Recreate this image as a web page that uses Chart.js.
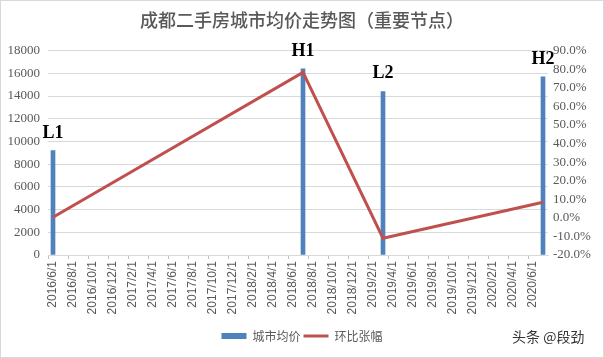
<!DOCTYPE html>
<html>
<head>
<meta charset="utf-8">
<script src="https://cdn.jsdelivr.net/npm/chart.js@4"></script>
<style>
  html, body { margin: 0; padding: 0; background: #fff; }
  #wrap { position: relative; width: 604px; height: 358px; }
  #frame { position: absolute; left: 0; top: 0; width: 604px; height: 358px; box-sizing: border-box; border: 1px solid #d9d9d9; pointer-events: none; }
  #mark { position: absolute; left: 512px; top: 326px; font: 14px "Noto Sans CJK SC", sans-serif; color: #333; }
</style>
</head>
<body>
<div id="wrap">
  <canvas id="c" width="604" height="358"></canvas>
  <div id="frame"></div>
  <div id="mark">头条 @段劲</div>
</div>
<script>
const categories = [
  '2016/6/1','2016/7/1','2016/8/1','2016/9/1','2016/10/1','2016/11/1','2016/12/1',
  '2017/1/1','2017/2/1','2017/3/1','2017/4/1','2017/5/1','2017/6/1','2017/7/1','2017/8/1','2017/9/1','2017/10/1','2017/11/1','2017/12/1',
  '2018/1/1','2018/2/1','2018/3/1','2018/4/1','2018/5/1','2018/6/1','2018/7/1','2018/8/1','2018/9/1','2018/10/1','2018/11/1','2018/12/1',
  '2019/1/1','2019/2/1','2019/3/1','2019/4/1','2019/5/1','2019/6/1','2019/7/1','2019/8/1','2019/9/1','2019/10/1','2019/11/1','2019/12/1',
  '2020/1/1','2020/2/1','2020/3/1','2020/4/1','2020/5/1','2020/6/1','2020/7/1'
];
const nodeDates  = ['2016/6/1', '2018/7/1', '2019/3/1', '2020/7/1'];
const nodeLabels = ['L1', 'H1', 'L2', 'H2'];
const prices     = [9200, 16400, 14400, 15700];   // 城市均价
const changes    = [0.3, 78.3, -11.0, 8.4];       // 环比张幅 (%)
const leftTicks  = { min: 0, max: 18000, step: 2000 };
const rightTicks = { min: -20, max: 90, step: 10 };

const barData  = categories.map(c => { const i = nodeDates.indexOf(c); return i >= 0 ? prices[i] : null; });
const lineData = categories.map(c => { const i = nodeDates.indexOf(c); return i >= 0 ? changes[i] : null; });

const serif = '"Liberation Serif", "Times New Roman", serif';
const sans = '"Liberation Sans", Arial, sans-serif';
const cjk = '"Noto Sans CJK SC", sans-serif';

const nodeLabelPlugin = {
  id: 'nodeLabels',
  afterDatasetsDraw(chart) {
    const meta = chart.getDatasetMeta(0);
    const ctx = chart.ctx;
    ctx.save();
    ctx.font = 'bold 18px ' + serif;
    ctx.fillStyle = '#000';
    ctx.textAlign = 'center';
    ctx.textBaseline = 'alphabetic';
    let k = 0;
    meta.data.forEach((el, i) => {
      if (barData[i] != null) {
        ctx.fillText(nodeLabels[k++], el.x, el.y - 13);
      }
    });
    ctx.restore();
  }
};

new Chart(document.getElementById('c'), {
  data: {
    labels: categories,
    datasets: [
      {
        type: 'bar', label: '城市均价', data: barData, yAxisID: 'y',
        backgroundColor: '#4F81BD', borderWidth: 0, barThickness: 4,
        pointStyle: 'rect', order: 2
      },
      {
        type: 'line', label: '环比张幅', data: lineData, yAxisID: 'y1',
        borderColor: '#C0504D', backgroundColor: '#C0504D', borderWidth: 3,
        pointRadius: 0, spanGaps: true, tension: 0, pointStyle: 'line', order: 1
      }
    ]
  },
  options: {
    responsive: false,
    animation: false,
    layout: { padding: { left: 0, right: 0, top: 0, bottom: 6 } },
    plugins: {
      title: {
        display: true,
        text: '成都二手房城市均价走势图（重要节点）',
        color: '#595959',
        font: { family: cjk, size: 18, weight: 500 },
        padding: { top: 9, bottom: 20 }
      },
      legend: {
        position: 'bottom',
        labels: {
          usePointStyle: true,
          pointStyleWidth: 25,
          boxHeight: 6,
          padding: 3,
          color: '#595959',
          font: { family: cjk, size: 12 },
          sort: (a, b) => a.datasetIndex - b.datasetIndex
        }
      },
      tooltip: { enabled: false }
    },
    scales: {
      x: {
        offset: true,
        grid: {
          display: true, drawOnChartArea: false, offset: true, tickLength: 4,
          color: (c) => (c.index % 2 === 0 ? '#bfbfbf' : 'rgba(0,0,0,0)')
        },
        border: { display: true, color: '#d9d9d9' },
        ticks: {
          autoSkip: false, minRotation: 90, maxRotation: 90, padding: 2,
          color: '#595959', font: { family: sans, size: 12 },
          callback: function(v, i) { return i % 2 === 0 ? this.getLabelForValue(v) : ''; }
        },
        afterFit: (s) => { s.height = 72; }
      },
      y: {
        position: 'left',
        min: leftTicks.min, max: leftTicks.max,
        ticks: {
          autoSkip: false,
          stepSize: leftTicks.step, color: '#595959', font: { family: serif, size: 13 }, padding: 8,
          callback: (v) => String(v)
        },
        grid: { color: '#d9d9d9', drawTicks: false },
        border: { display: false },
        afterFit: (s) => { s.width = 48; }
      },
      y1: {
        position: 'right',
        min: rightTicks.min, max: rightTicks.max,
        ticks: {
          autoSkip: false,
          stepSize: rightTicks.step, color: '#595959', font: { family: serif, size: 13 }, padding: 5,
          callback: (v) => v.toFixed(1) + '%'
        },
        grid: { display: false, drawTicks: false },
        border: { display: false },
        afterFit: (s) => { s.width = 56; }
      }
    }
  },
  plugins: [nodeLabelPlugin]
});
</script>
</body>
</html>
